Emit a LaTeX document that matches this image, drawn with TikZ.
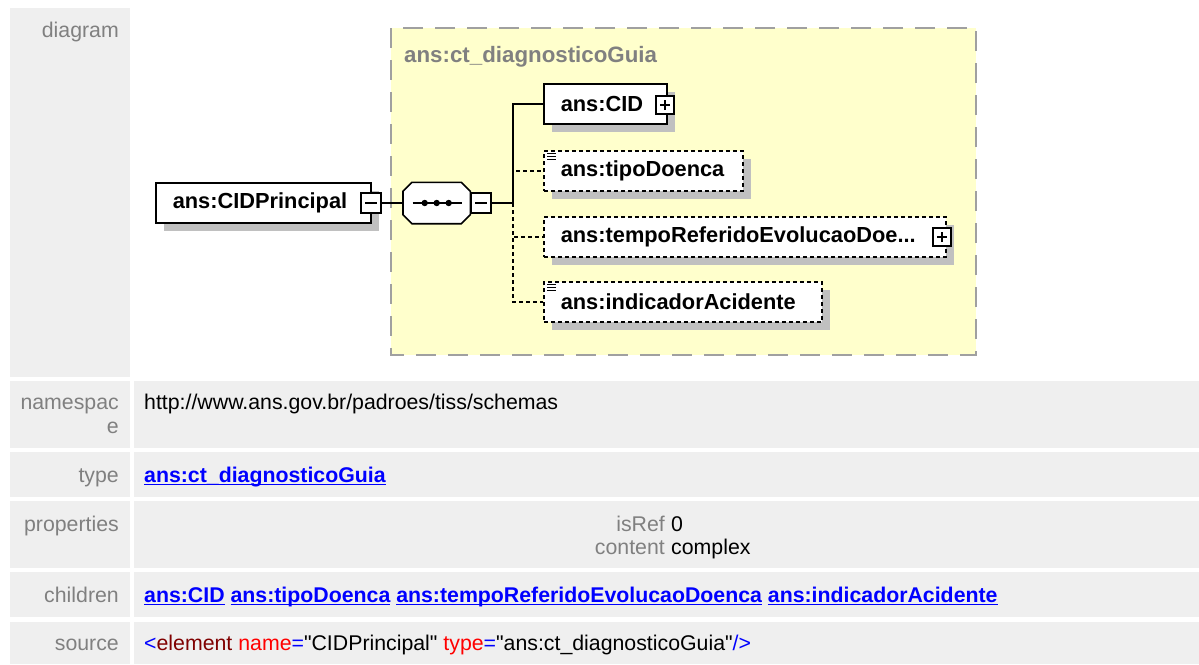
\documentclass[tikz,border=0pt]{standalone}
\usepackage{fontspec}
\setmainfont{Liberation Sans}
\usetikzlibrary{positioning, shadows}
\definecolor{cellgray}{HTML}{EFEFEF}
\definecolor{labelgray}{HTML}{808080}
\definecolor{linkblue}{HTML}{0000FF}
\definecolor{boxyellow}{HTML}{FFFFCC}
\definecolor{frameline}{HTML}{A0A0A0}
\definecolor{shadowgray}{HTML}{C0C0C0}
\definecolor{tagred}{HTML}{800000}
\definecolor{attrred}{HTML}{FF0000}
\newcommand{\schemalink}[1]{{\bfseries\setbox0=\hbox{#1}\rlap{\rule[-3pt]{\wd0}{1.5pt}}\box0}}
\newcommand{\qt}{\textquotedbl}

\begin{document}
\begin{tikzpicture}[x=1pt, y=-1pt, font=\fontsize{21.3}{25.6}\selectfont,
  cell/.style={fill=cellgray},
  rowlabel/.style={anchor=base east, text=labelgray, inner sep=0pt},
  rowvalue/.style={anchor=base west, inner sep=0pt},
  elem/.style={draw=black, line width=1.6pt, fill=white, anchor=west,
    inner xsep=17pt, inner ysep=0pt, minimum height=40pt, align=left,
    font=\fontsize{21.8}{26}\selectfont\bfseries,
    drop shadow={shadow xshift=8pt, shadow yshift=-8pt, fill=shadowgray, opacity=1}},
  optelem/.style={elem, dash pattern=on 4pt off 3pt},
  seqbox/.style={anchor=west, minimum width=67pt, minimum height=41pt, inner sep=0pt},
  togglebox/.style={draw=black, line width=1.2pt, fill=white, minimum size=18pt, inner sep=0pt},
  link/.style={line width=1.5pt},
  optlink/.style={link, dash pattern=on 4pt off 3pt},
  sign/.style={line width=1.3pt},
  docicon/.style={line width=1.2pt}]
\useasboundingbox (0,0) rectangle (1199,664);

% ---- table cells -------------------------------------------------------
\fill[cell] (10,8) rectangle (130,377);
\fill[cell] (10,381) rectangle (130,448);
\fill[cell] (134,381) rectangle (1199,448);
\fill[cell] (10,452) rectangle (130,497);
\fill[cell] (134,452) rectangle (1199,497);
\fill[cell] (10,501) rectangle (130,568);
\fill[cell] (134,501) rectangle (1199,568);
\fill[cell] (10,572) rectangle (130,617);
\fill[cell] (134,572) rectangle (1199,617);
\fill[cell] (10,622) rectangle (130,664);
\fill[cell] (134,622) rectangle (1199,664);

% ---- row labels --------------------------------------------------------
\node[rowlabel] (lbldiagram) at (119,37) {diagram};
\node[rowlabel] (lblns) at (119,409) {namespac};
\node[rowlabel] (lblnse) at (119,433) {e};
\node[rowlabel] (lbltype) at (119,482) {type};
\node[rowlabel] (lblprops) at (119,531) {properties};
\node[rowlabel] (lblchildren) at (119,602) {children};
\node[rowlabel] (lblsource) at (119,650) {source};

% ---- row values --------------------------------------------------------
\node[rowvalue] (nsval) at (144,409) {http://www.ans.gov.br/padroes/tiss/schemas};
\node[rowvalue, text=linkblue] (typeval) at (144,482) {\schemalink{ans:ct\_diagnosticoGuia}};
\node[rowlabel] (isreflbl) at (665,531) {isRef};
\node[rowvalue] (isrefval) at (671,531) {0};
\node[rowlabel] (contentlbl) at (665,554) {content};
\node[rowvalue] (contentval) at (671,554) {complex};
\node[rowvalue, text=linkblue] (childval) at (144,602)
  {\schemalink{ans:CID} \schemalink{ans:tipoDoenca}
   \schemalink{ans:tempoReferidoEvolucaoDoenca} \schemalink{ans:indicadorAcidente}};
\node[rowvalue] (srcval) at (144,650)
  {\textcolor{linkblue}{<}\textcolor{tagred}{element} \textcolor{attrred}{name}\textcolor{linkblue}{=}\qt CIDPrincipal\qt{}
   \textcolor{attrred}{type}\textcolor{linkblue}{=}\qt ans:ct\_diagnosticoGuia\qt\textcolor{linkblue}{/>}};

% ---- complex type frame ------------------------------------------------
\draw[fill=boxyellow, draw=frameline, line width=2pt, dash pattern=on 20pt off 12pt]
  (391,28) rectangle (976,355);
\node[anchor=base west, inner sep=0pt, text=labelgray, font=\fontsize{22.3}{26}\selectfont\bfseries]
  (typetitle) at (404,62) {ans:ct\_diagnosticoGuia};

% ---- elements ----------------------------------------------------------
\node[elem, text width=181pt] (root) at (155,203) {ans:CIDPrincipal};
\node[togglebox, minimum size=20pt] (rootminus) at (371,203) {};
\node[seqbox] (seq) at (403,203) {};
\fill[shadowgray, shift={(8,8)}]
  ([xshift=9pt]seq.north west) -- ([xshift=-9pt]seq.north east) -- ([yshift=-9pt]seq.north east)
  -- ([yshift=9pt]seq.south east) -- ([xshift=-9pt]seq.south east) -- ([xshift=9pt]seq.south west)
  -- ([yshift=9pt]seq.south west) -- ([yshift=-9pt]seq.north west) -- cycle;
\draw[fill=white, line width=1.6pt]
  ([xshift=9pt]seq.north west) -- ([xshift=-9pt]seq.north east) -- ([yshift=-9pt]seq.north east)
  -- ([yshift=9pt]seq.south east) -- ([xshift=-9pt]seq.south east) -- ([xshift=9pt]seq.south west)
  -- ([yshift=9pt]seq.south west) -- ([yshift=-9pt]seq.north west) -- cycle;
\node[togglebox, minimum size=20pt] (seqminus) at (481,203) {};
\coordinate (trunk) at (513,203);

\node[elem, text width=89pt] (cid) at (543,104) {ans:CID};
\node[togglebox] (cidplus) at (665,105) {};
\node[optelem, text width=165pt] (tipo) at (543,171) {ans:tipoDoenca};
\node[optelem, text width=368pt] (tempo) at (543,237) {ans:tempoReferidoEvolucaoDoe...};
\node[togglebox] (tempoplus) at (942,237) {};
\node[optelem, text width=244pt] (indic) at (543,302) {ans:indicadorAcidente};

% ---- toggles and sequence marks ----------------------------------------
\draw[sign] ([xshift=-6pt]rootminus.center) -- ([xshift=6pt]rootminus.center);
\draw[sign] ([xshift=-6pt]seqminus.center) -- ([xshift=6pt]seqminus.center);
\foreach \p in {cidplus, tempoplus} {
  \draw[sign] ([xshift=-5pt]\p.center) -- ([xshift=5pt]\p.center);
  \draw[sign] ([yshift=-5pt]\p.center) -- ([yshift=5pt]\p.center);
}
\draw[link] ([xshift=-24pt]seq.center) -- ([xshift=25pt]seq.center);
\foreach \dx in {-12,0,12}
  \fill ([xshift=\dx pt]seq.center) circle (3.2pt);

% ---- simple type marks -------------------------------------------------
\foreach \b in {tipo, indic} {
  \foreach \dy in {3,6,9}
    \draw[docicon] ([xshift=4pt, yshift=-\dy pt]\b.north west) -- ++(9,0);
}

% ---- connectors --------------------------------------------------------
\draw[link] (rootminus.east) -- (seq.west);
\draw[link] (seqminus.east) -- (trunk);
\draw[link] (trunk) |- (cid.west);
\draw[optlink] (trunk) |- (tipo.west);
\draw[optlink] (trunk) |- (tempo.west);
\draw[optlink] (trunk) |- (indic.west);
\end{tikzpicture}
\end{document}
